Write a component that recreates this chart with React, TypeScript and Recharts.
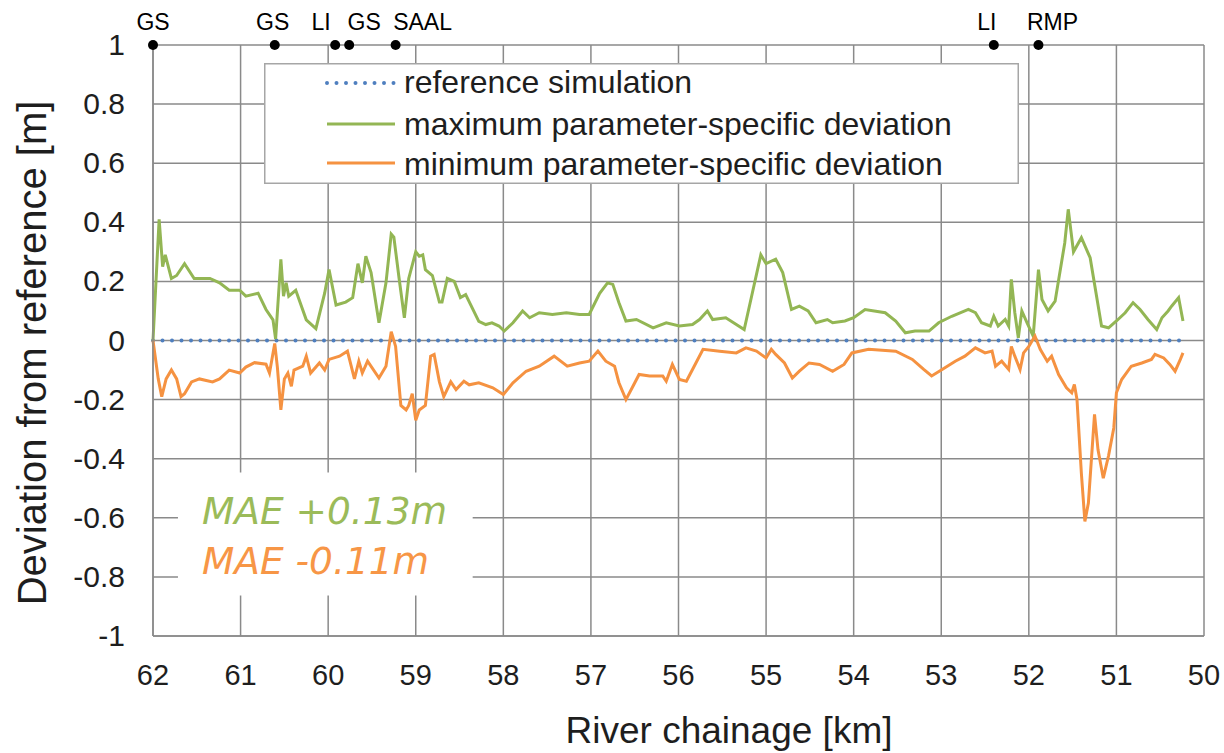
import React from "react";
import {
  ComposedChart,
  Line,
  XAxis,
  YAxis,
  CartesianGrid,
  Legend,
  ReferenceArea,
  Label,
} from "recharts";

// ---- data ----
const KM_TICKS = [62, 61, 60, 59, 58, 57, 56, 55, 54, 53, 52, 51, 50];
const DEV_TICKS = [1, 0.8, 0.6, 0.4, 0.2, 0, -0.2, -0.4, -0.6, -0.8, -1];

const MAX_KM = [
  62.0, 61.93, 61.89, 61.86, 61.79, 61.73, 61.64, 61.53, 61.35, 61.24, 61.13, 61.01, 60.94, 60.8, 60.71,
  60.63, 60.6, 60.54, 60.51, 60.48, 60.45, 60.37, 60.25, 60.14, 60.04, 59.99, 59.91, 59.8, 59.72, 59.66,
  59.61, 59.57, 59.51, 59.42, 59.34, 59.28, 59.25, 59.19, 59.13, 59.08, 59.0, 58.96, 58.92, 58.89, 58.81,
  58.73, 58.7, 58.64, 58.56, 58.49, 58.43, 58.28, 58.2, 58.13, 58.05, 57.99, 57.89, 57.78, 57.7, 57.59,
  57.44, 57.28, 57.13, 57.02, 56.9, 56.81, 56.75, 56.68, 56.6, 56.48, 56.29, 56.14, 55.99, 55.84, 55.76,
  55.67, 55.61, 55.46, 55.34, 55.25, 55.15, 55.06, 55.0, 54.89, 54.81, 54.71, 54.62, 54.52, 54.43, 54.3,
  54.24, 54.1, 54.0, 53.87, 53.64, 53.52, 53.41, 53.3, 53.14, 53.03, 52.88, 52.69, 52.61, 52.54, 52.44,
  52.4, 52.35, 52.27, 52.23, 52.2, 52.16, 52.12, 52.08, 52.02, 51.95, 51.89, 51.85, 51.78, 51.7, 51.59,
  51.55, 51.49, 51.4, 51.3, 51.17, 51.09, 51.0, 50.9, 50.81, 50.73, 50.64, 50.54, 50.48, 50.41, 50.37,
  50.29, 50.24,
];
const MAX_DEV = [
  0.0, 0.41, 0.25, 0.29, 0.21, 0.22, 0.26, 0.21, 0.21, 0.195, 0.17, 0.17, 0.15, 0.16, 0.105,
  0.07, 0.005, 0.275, 0.15, 0.195, 0.15, 0.17, 0.07, 0.04, 0.16, 0.24, 0.12, 0.13, 0.145, 0.26,
  0.195, 0.285, 0.23, 0.06, 0.195, 0.36, 0.35, 0.21, 0.077, 0.21, 0.3, 0.285, 0.29, 0.24, 0.22,
  0.13, 0.13, 0.21, 0.2, 0.145, 0.155, 0.065, 0.054, 0.06, 0.049, 0.032, 0.06, 0.1, 0.077, 0.094,
  0.088, 0.094, 0.088, 0.088, 0.16, 0.195, 0.19, 0.128, 0.066, 0.071, 0.043, 0.06, 0.049, 0.054, 0.071,
  0.1, 0.071, 0.077, 0.054, 0.037, 0.17, 0.29, 0.26, 0.275, 0.23, 0.105, 0.116, 0.1, 0.06, 0.071,
  0.06, 0.066, 0.077, 0.105, 0.094, 0.066, 0.026, 0.032, 0.032, 0.06, 0.082, 0.105, 0.094, 0.06, 0.049,
  0.082, 0.049, 0.071, 0.049, 0.207, 0.094, 0.009, 0.1, 0.06, 0.015, 0.24, 0.139, 0.1, 0.133, 0.33,
  0.444, 0.3, 0.348, 0.28, 0.049, 0.043, 0.066, 0.094, 0.128, 0.105, 0.071, 0.037, 0.077, 0.1, 0.116,
  0.145, 0.066,
];

const MIN_KM = [
  62.0, 61.94, 61.9, 61.85, 61.79, 61.73, 61.68, 61.64, 61.56, 61.47, 61.32, 61.24, 61.13, 61.01, 60.94,
  60.84, 60.71, 60.67, 60.61, 60.58, 60.54, 60.5, 60.46, 60.42, 60.39, 60.29, 60.25, 60.2, 60.1, 60.04,
  59.99, 59.87, 59.78, 59.7, 59.65, 59.61, 59.55, 59.42, 59.34, 59.28, 59.23, 59.17, 59.11, 59.08, 59.04,
  59.0, 58.96, 58.89, 58.83, 58.79, 58.73, 58.68, 58.6, 58.54, 58.45, 58.39, 58.28, 58.12, 58.0, 57.89,
  57.74, 57.59, 57.42, 57.27, 57.13, 57.02, 56.92, 56.83, 56.73, 56.68, 56.6, 56.52, 56.45, 56.33, 56.18,
  56.14, 56.07, 55.99, 55.91, 55.84, 55.72, 55.53, 55.34, 55.23, 55.11, 55.0, 54.94, 54.89, 54.79, 54.7,
  54.62, 54.51, 54.39, 54.24, 54.11, 54.02, 53.83, 53.52, 53.33, 53.2, 53.11, 52.99, 52.84, 52.73, 52.61,
  52.5, 52.42, 52.38, 52.31, 52.23, 52.2, 52.16, 52.1, 52.06, 52.0, 51.93, 51.87, 51.79, 51.74, 51.66,
  51.57, 51.51, 51.48, 51.45, 51.4, 51.36, 51.32, 51.25, 51.21, 51.15, 51.09, 51.03, 51.0, 50.94, 50.83,
  50.71, 50.6, 50.56, 50.46, 50.39, 50.33, 50.27, 50.24,
];
const MIN_DEV = [
  0.0, -0.13, -0.19, -0.13, -0.1, -0.13, -0.19, -0.18, -0.14, -0.13, -0.14, -0.13, -0.1, -0.11, -0.09,
  -0.075, -0.08, -0.11, -0.01, -0.09, -0.235, -0.13, -0.11, -0.155, -0.1, -0.087, -0.053, -0.11, -0.076, -0.1,
  -0.064, -0.053, -0.036, -0.13, -0.07, -0.11, -0.07, -0.127, -0.087, 0.03, -0.02, -0.22, -0.235, -0.22, -0.18,
  -0.27, -0.235, -0.22, -0.053, -0.047, -0.14, -0.19, -0.14, -0.166, -0.138, -0.15, -0.143, -0.16, -0.183, -0.143,
  -0.104, -0.087, -0.053, -0.087, -0.076, -0.07, -0.036, -0.07, -0.087, -0.143, -0.2, -0.155, -0.115, -0.12, -0.12,
  -0.138, -0.081, -0.132, -0.138, -0.098, -0.03, -0.036, -0.042, -0.025, -0.036, -0.059, -0.03, -0.047, -0.076, -0.127,
  -0.104, -0.076, -0.081, -0.104, -0.081, -0.042, -0.03, -0.036, -0.064, -0.098, -0.12, -0.098, -0.07, -0.053, -0.025,
  -0.042, -0.036, -0.087, -0.07, -0.098, -0.02, -0.053, -0.098, -0.042, -0.02, 0.015, -0.03, -0.07, -0.053, -0.115,
  -0.16, -0.177, -0.149, -0.2, -0.45, -0.612, -0.55, -0.25, -0.37, -0.466, -0.39, -0.296, -0.177, -0.132, -0.087,
  -0.076, -0.064, -0.047, -0.059, -0.081, -0.104, -0.064, -0.042,
];

const REF_KM = [62.0, 50.24];
const REF_DEV = [0, 0];

const MARKER_LABELS = ["GS", "GS", "LI", "GS", "SAAL", "LI", "RMP"];
const MARKER_KM = [62.0, 60.61, 59.92, 59.76, 59.23, 52.4, 51.89];
const MARKER_DEV = [1, 1, 1, 1, 1, 1, 1];
// label horizontal shift (styling only)
const MARKER_DX = [0, -2, -14, 15, 27, -7, 14];

const SERIES_NAMES = [
  "reference simulation",
  "maximum parameter-specific deviation",
  "minimum parameter-specific deviation",
];
const MAE_TEXTS = ["MAE +0.13m", "MAE -0.11m"];

// ---- build tables ----
const zip = (xs: number[], ys: number[]) => xs.map((x, i) => ({ km: x, v: ys[i] }));
const maxData = zip(MAX_KM, MAX_DEV);
const minData = zip(MIN_KM, MIN_DEV);
const refData = zip(REF_KM, REF_DEV);
const markerData = zip(MARKER_KM, MARKER_DEV);

// ---- styles ----
const FONT = "'Liberation Sans', Arial, sans-serif";
const GREEN = "#93b654";
const ORANGE = "#f59241";
const BLUE = "#4f7fbf";
const GRID = "#8a8a8a";
const TEXT = "#1e1e1e";

const fmt = (v: number) => String(Math.round(v * 10) / 10);

const XTick = (props: any) => {
  const { x, y, payload } = props;
  return (
    <text x={x} y={y + 21} textAnchor="middle" fontSize={29} fontFamily={FONT} fill={TEXT}>
      {String(payload.value)}
    </text>
  );
};

const YTick = (props: any) => {
  const { x, y, payload } = props;
  return (
    <text x={x} y={y + 10} textAnchor="end" fontSize={30} fontFamily={FONT} fill={TEXT}>
      {fmt(payload.value)}
    </text>
  );
};

const renderMarker = (props: any) => {
  const { cx, cy, index } = props;
  return (
    <g key={`mk-${index}`}>
      <circle cx={cx} cy={cy} r={5} fill="#000" />
      <text
        x={cx + MARKER_DX[index]}
        y={cy - 15}
        textAnchor="middle"
        fontSize={23}
        fontFamily={FONT}
        fill="#000"
      >
        {MARKER_LABELS[index]}
      </text>
    </g>
  );
};

const LegendBox = () => {
  const rows = [
    { color: BLUE, dash: "0 9.5", y: 20, ty: 30, w: 4 },
    { color: GREEN, dash: undefined, y: 61, ty: 72, w: 3 },
    { color: ORANGE, dash: undefined, y: 100, ty: 112, w: 3 },
  ];
  return (
    <svg width={755} height={121} style={{ display: "block" }}>
      <rect x={0.75} y={0.75} width={753.5} height={119.5} fill="#fff" stroke="#a6a6a6" strokeWidth={1.5} />
      {rows.map((r, i) => (
        <g key={i}>
          <line
            x1={63}
            x2={131}
            y1={r.y}
            y2={r.y}
            stroke={r.color}
            strokeWidth={r.w}
            strokeDasharray={r.dash}
            strokeLinecap={r.dash ? "round" : "butt"}
          />
          <text x={140} y={r.ty} fontSize={32} fontFamily={FONT} fill={TEXT}>
            {SERIES_NAMES[i]}
          </text>
        </g>
      ))}
    </svg>
  );
};

const MaeLabel = (props: any) => {
  const vb = props.viewBox || {};
  const x = (vb.x ?? 0) + 24;
  const y = vb.y ?? 0;
  return (
    <g>
      <text x={x} y={y + 51} fontSize={37.5} fontStyle="italic" fontFamily="'DejaVu Sans', Verdana, sans-serif" fill="#9bbb59">
        {MAE_TEXTS[0]}
      </text>
      <text x={x} y={y + 101} fontSize={37.5} fontStyle="italic" fontFamily="'DejaVu Sans', Verdana, sans-serif" fill="#f79646">
        {MAE_TEXTS[1]}
      </text>
    </g>
  );
};

export default function App() {
  return (
    <div style={{ position: "absolute", left: 0, top: 0, width: 1224, height: 753, background: "#fff", fontFamily: FONT }}>
      <ComposedChart width={1224} height={753} margin={{ top: 45, right: 20, bottom: 57, left: 53 }}>
        <CartesianGrid stroke={GRID} strokeWidth={1.5} horizontal vertical />
        <XAxis
          type="number"
          dataKey="km"
          domain={[50, 62]}
          reversed
          ticks={KM_TICKS}
          allowDecimals={false}
          interval={0}
          height={60}
          tickSize={0}
          tickMargin={28}
          axisLine={{ stroke: GRID, strokeWidth: 1.5 }}
          tickLine={false}
          tick={<XTick />}
        >
          <Label
            content={() => (
              <text x={729} y={743} textAnchor="middle" fontSize={37} fontFamily={FONT} fill={TEXT}>
                River chainage [km]
              </text>
            )}
          />
        </XAxis>
        <YAxis
          type="number"
          domain={[-1, 1]}
          ticks={DEV_TICKS}
          interval={0}
          width={100}
          tickSize={0}
          tickMargin={28}
          axisLine={{ stroke: GRID, strokeWidth: 1.5 }}
          tickLine={false}
          tick={<YTick />}
        >
          <Label
            content={() => (
              <text
                x={46}
                y={353}
                transform="rotate(-90, 46, 353)"
                textAnchor="middle"
                fontSize={40}
                fontFamily={FONT}
                fill={TEXT}
              >
                Deviation from reference [m]
              </text>
            )}
          />
        </YAxis>
        <ReferenceArea
          x1={61.715}
          x2={58.35}
          y1={-0.447}
          y2={-0.863}
          fill="#ffffff"
          fillOpacity={1}
          stroke="none"
          label={(p: any) => <MaeLabel {...p} />}
        />
        <Legend
          layout="horizontal"
          verticalAlign="middle"
          align="center"
          content={() => <LegendBox />}
          wrapperStyle={{ position: "absolute", left: 264, top: 63, width: 755, height: 121 }}
        />
        <Line
          data={refData}
          dataKey="v"
          type="linear"
          stroke={BLUE}
          strokeWidth={4}
          strokeDasharray="0 9.5"
          strokeLinecap="round"
          dot={false}
          activeDot={false}
          isAnimationActive={false}
          name={SERIES_NAMES[0]}
        />
        <Line
          data={maxData}
          dataKey="v"
          type="linear"
          stroke={GREEN}
          strokeWidth={3}
          dot={false}
          activeDot={false}
          isAnimationActive={false}
          name={SERIES_NAMES[1]}
        />
        <Line
          data={minData}
          dataKey="v"
          type="linear"
          stroke={ORANGE}
          strokeWidth={3}
          dot={false}
          activeDot={false}
          isAnimationActive={false}
          name={SERIES_NAMES[2]}
        />
        <Line
          data={markerData}
          dataKey="v"
          stroke="none"
          strokeWidth={0}
          dot={renderMarker}
          activeDot={false}
          isAnimationActive={false}
          legendType="none"
        />
      </ComposedChart>
    </div>
  );
}
